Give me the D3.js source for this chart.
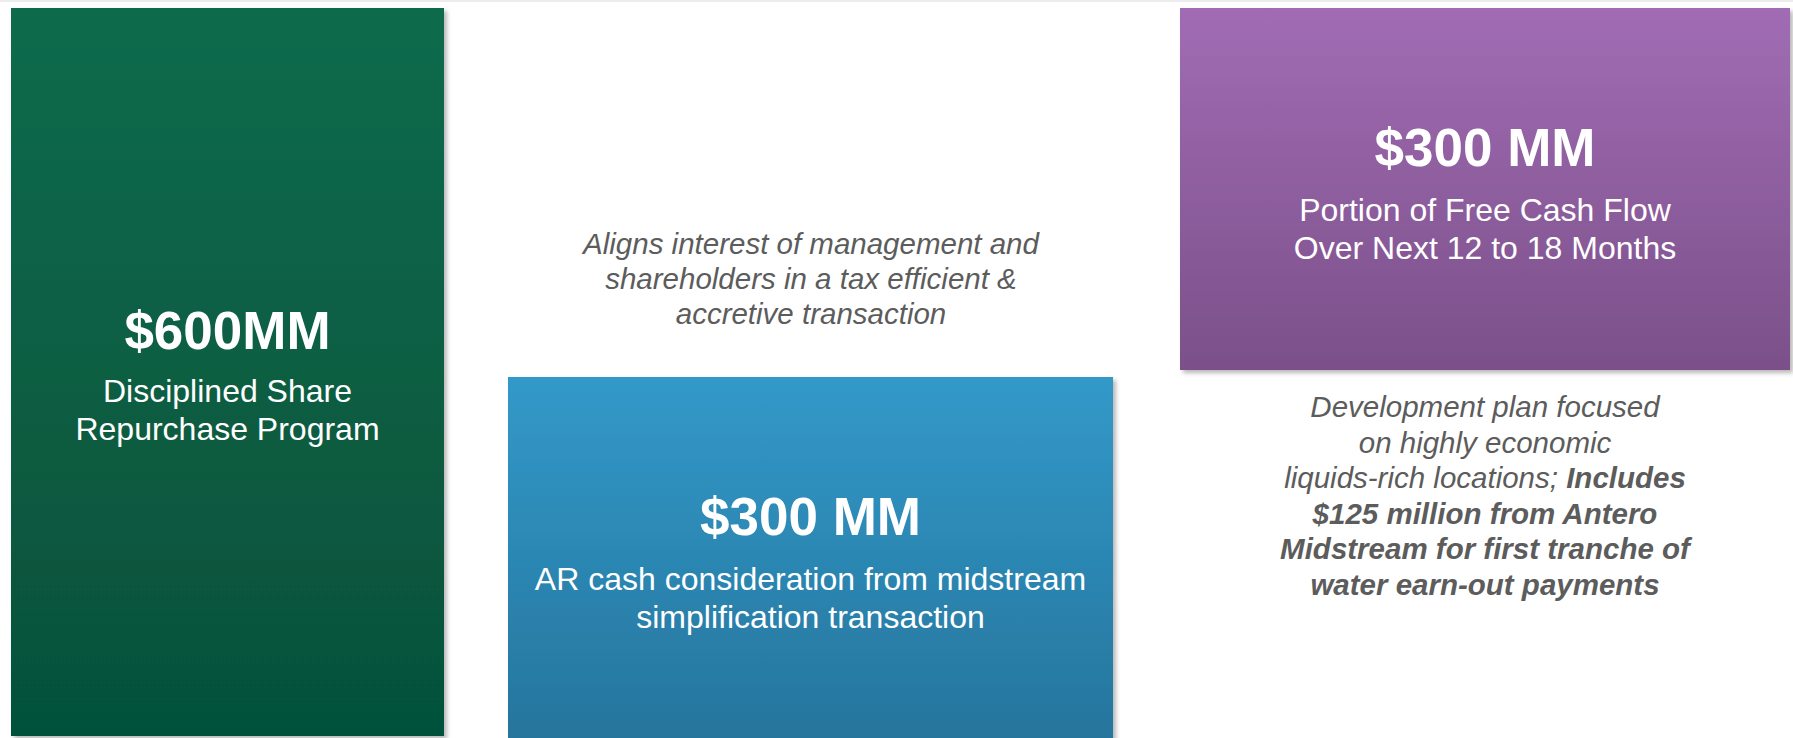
<!DOCTYPE html>
<html>
<head>
<meta charset="utf-8">
<script src="https://cdn.jsdelivr.net/npm/d3@7"></script>
<style>
  html, body { margin: 0; padding: 0; background: #fff; overflow: hidden; }
</style>
</head>
<body>
<svg id="chart"></svg>
<script>
// === data === //
var boxIds = ["buyback", "simplification", "fcf"]
var boxAmounts = ["$600MM", "$300 MM", "$300 MM"]
var boxLines = [
  ["Disciplined Share", "Repurchase Program"],
  ["AR cash consideration from midstream", "simplification transaction"],
  ["Portion of Free Cash Flow", "Over Next 12 to 18 Months"]
]
var boxTop = ["#0a6b4c", "#3299c9", "#a16cb4"]
var boxBottom = ["#06513a", "#25739a", "#7b5089"]

var noteMiddle = [
  "Aligns interest of management and",
  "shareholders in a tax efficient &",
  "accretive transaction"
]
// each line: [text, bold?] pieces
var noteRight = [
  [["Development plan focused", false]],
  [["on highly economic", false]],
  [["liquids-rich locations; ", false], ["Includes", true]],
  [["$125 million from Antero", true]],
  [["Midstream for first tranche of", true]],
  [["water earn-out payments", true]]
]

// === canvas === //
var width = 1793
var height = 738

var svg = d3.select("#chart").attr("width", width).attr("height", height)
var defs = svg.append("defs")

var shadow = defs.append("filter").attr("id", "shadow")
  .attr("x", "-5%").attr("y", "-5%").attr("width", "115%").attr("height", "115%")
shadow.append("feDropShadow")
  .attr("dx", 3).attr("dy", 3).attr("stdDeviation", 2)
  .attr("flood-color", "#000").attr("flood-opacity", 0.28)

boxIds.forEach(function(id, i) {
  var g = defs.append("linearGradient").attr("id", "grad-" + id)
    .attr("x1", 0).attr("y1", 0).attr("x2", 0).attr("y2", 1)
  g.append("stop").attr("offset", "0%").attr("stop-color", boxTop[i])
  g.append("stop").attr("offset", "100%").attr("stop-color", boxBottom[i])
})

// thin rule along the top of the slide
svg.append("rect").attr("x", 0).attr("y", 0).attr("width", width).attr("height", 2).attr("fill", "#ececec")

// box geometry (layout only)
var boxX = [11, 508, 1180]
var boxW = [433, 605, 610]
var boxY = [8, 377, 8]
var boxH = [728, 380, 362]
var amountY = [349, 535, 166]
var lineY0 = [402, 590, 221]
var lineGap = 38

var sans = "'Liberation Sans', Arial, Helvetica, sans-serif"

var boxes = svg.selectAll("g.box")
  .data(boxIds)
  .enter().append("g")
  .attr("class", "box")

boxes.append("rect")
  .attr("x", function(d, i) { return boxX[i] })
  .attr("y", function(d, i) { return boxY[i] })
  .attr("width", function(d, i) { return boxW[i] })
  .attr("height", function(d, i) { return boxH[i] })
  .attr("fill", function(d) { return "url(#grad-" + d + ")" })
  .attr("filter", "url(#shadow)")

boxes.append("text")
  .attr("x", function(d, i) { return boxX[i] + boxW[i] / 2 })
  .attr("y", function(d, i) { return amountY[i] })
  .attr("text-anchor", "middle")
  .style("font-family", sans)
  .style("font-weight", "bold")
  .style("font-size", "53px")
  .attr("fill", "#fff")
  .text(function(d, i) { return boxAmounts[i] })

boxes.each(function(d, i) {
  d3.select(this).selectAll("text.sub")
    .data(boxLines[i])
    .enter().append("text")
    .attr("class", "sub")
    .attr("x", boxX[i] + boxW[i] / 2)
    .attr("y", function(t, j) { return lineY0[i] + j * lineGap })
    .attr("text-anchor", "middle")
    .style("font-family", sans)
    .style("font-size", "32px")
    .attr("fill", "#fff")
    .text(function(t) { return t })
})

// notes
var noteColor = "#5c5c5c"

svg.append("g").selectAll("text")
  .data(noteMiddle)
  .enter().append("text")
  .attr("x", 811)
  .attr("y", function(d, i) { return 254 + i * 35 })
  .attr("text-anchor", "middle")
  .style("font-family", sans)
  .style("font-style", "italic")
  .style("font-size", "29.5px")
  .attr("fill", noteColor)
  .text(function(d) { return d })

var right = svg.append("g").selectAll("text")
  .data(noteRight)
  .enter().append("text")
  .attr("x", 1485)
  .attr("y", function(d, i) { return 417 + i * 35.5 })
  .attr("text-anchor", "middle")
  .style("font-family", sans)
  .style("font-style", "italic")
  .style("font-size", "29.5px")
  .attr("fill", noteColor)

right.selectAll("tspan")
  .data(function(d) { return d })
  .enter().append("tspan")
  .style("font-weight", function(d) { return d[1] ? "bold" : "normal" })
  .text(function(d) { return d[0] })
</script>
</body>
</html>
